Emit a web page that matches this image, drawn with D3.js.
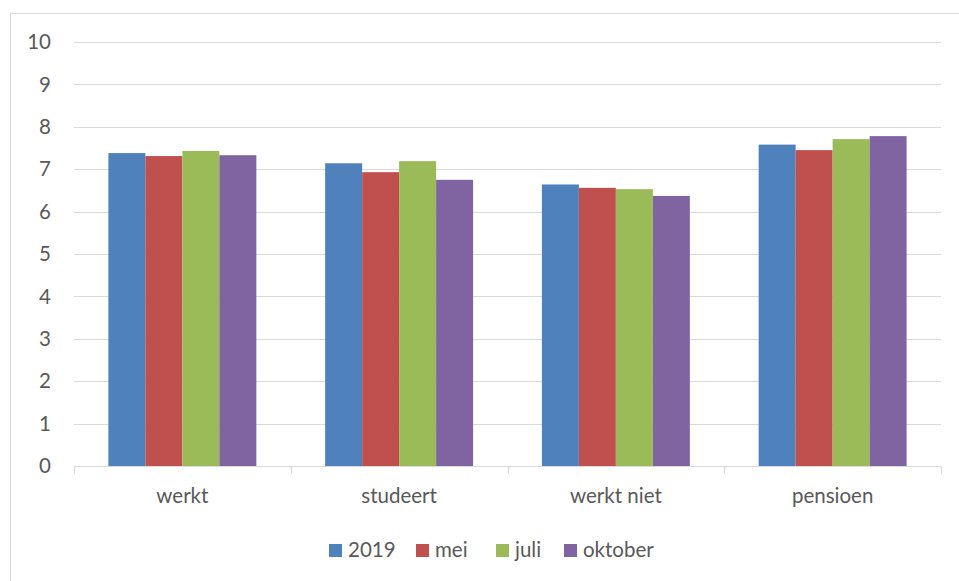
<!DOCTYPE html>
<html>
<head>
<meta charset="utf-8">
<script src="https://cdn.jsdelivr.net/npm/d3@7"></script>
<style>
  body { margin: 0; background: #fff; }
  svg { display: block; font-family: Lato, "Open Sans", sans-serif; }
</style>
</head>
<body>
<svg id="chart"></svg>
<script>
const categories = ['werkt', 'studeert', 'werkt niet', 'pensioen']
const seriesNames = ['2019', 'mei', 'juli', 'oktober']
const values2019 = [7.38, 7.14, 6.64, 7.58]
const valuesMei = [7.31, 6.93, 6.56, 7.45]
const valuesJuli = [7.43, 7.19, 6.53, 7.71]
const valuesOktober = [7.33, 6.75, 6.37, 7.78]
const yTicks = [0, 1, 2, 3, 4, 5, 6, 7, 8, 9, 10]
const colors = ['#4f81bd', '#c0504d', '#9bbb59', '#8064a2']

const seriesValues = [values2019, valuesMei, valuesJuli, valuesOktober]
const rows = categories.map((c, i) => ({
    cat: c,
    vals: seriesNames.map((s, j) => ({ key: s, value: seriesValues[j][i] }))
}))

const W = 959, H = 581
const margin = { left: 74, right: 18, top: 42, bottom: 115 }
const FS = 20.5

const svg = d3.select('#chart').attr('width', W).attr('height', H)

// outer frame
svg.append('rect')
    .attr('x', 10.5).attr('y', 13.5)
    .attr('width', W).attr('height', H)
    .attr('fill', 'none').attr('stroke', '#d9d9d9')

const x0 = d3.scaleBand().domain(categories).range([margin.left, W - margin.right]).padding(0)
const x1 = d3.scaleBand().domain(seriesNames).range([0, x0.bandwidth()]).paddingInner(0).paddingOuter(0.93)
const y = d3.scaleLinear().domain([0, 10]).range([H - margin.bottom, margin.top])

// gridlines
svg.append('g')
    .selectAll('line')
    .data(yTicks.filter(d => d > 0))
    .join('line')
    .attr('x1', margin.left).attr('x2', W - margin.right)
    .attr('y1', d => Math.round(y(d)) + 0.5).attr('y2', d => Math.round(y(d)) + 0.5)
    .attr('stroke', '#d9d9d9').attr('stroke-width', 1.2)

// y labels
svg.append('g')
    .selectAll('text')
    .data(yTicks)
    .join('text')
    .attr('x', 51).attr('y', d => y(d))
    .attr('dy', '0.35em')
    .attr('text-anchor', 'end')
    .attr('font-size', FS)
    .attr('fill', '#595959')
    .text(d => d)

// bars
svg.append('g')
    .selectAll('g')
    .data(rows)
    .join('g')
    .attr('transform', d => `translate(${x0(d.cat)},0)`)
    .selectAll('rect')
    .data(d => d.vals)
    .join('rect')
    .attr('x', d => x1(d.key))
    .attr('y', d => y(d.value))
    .attr('width', x1.bandwidth())
    .attr('height', d => y(0) - y(d.value))
    .attr('fill', (d, i) => colors[i])

// x axis
const xAxis = svg.append('g')
    .attr('transform', `translate(0,${Math.round(y(0)) + 0.5})`)
xAxis.append('line')
    .attr('x1', margin.left).attr('x2', W - margin.right)
    .attr('stroke', '#d9d9d9').attr('stroke-width', 1.2)
xAxis.selectAll('.tick')
    .data([...categories.map(c => x0(c)), W - margin.right])
    .join('line')
    .attr('x1', d => Math.round(d) + 0.5).attr('x2', d => Math.round(d) + 0.5)
    .attr('y1', 0).attr('y2', 7)
    .attr('stroke', '#d9d9d9').attr('stroke-width', 1.2)

svg.append('g')
    .selectAll('text')
    .data(categories)
    .join('text')
    .attr('x', d => x0(d) + x0.bandwidth() / 2)
    .attr('y', 503)
    .attr('text-anchor', 'middle')
    .attr('font-size', FS)
    .attr('fill', '#595959')
    .text(d => d)

// legend
const legendX = [329, 416, 496, 564]
const legend = svg.append('g')
    .selectAll('g')
    .data(seriesNames)
    .join('g')
    .attr('transform', (d, i) => `translate(${legendX[i]},544)`)
legend.append('rect')
    .attr('width', 13).attr('height', 13)
    .attr('fill', (d, i) => colors[i])
legend.append('text')
    .attr('x', 19).attr('y', 13)
    .attr('font-size', FS)
    .attr('fill', '#595959')
    .text(d => d)
</script>
</body>
</html>
